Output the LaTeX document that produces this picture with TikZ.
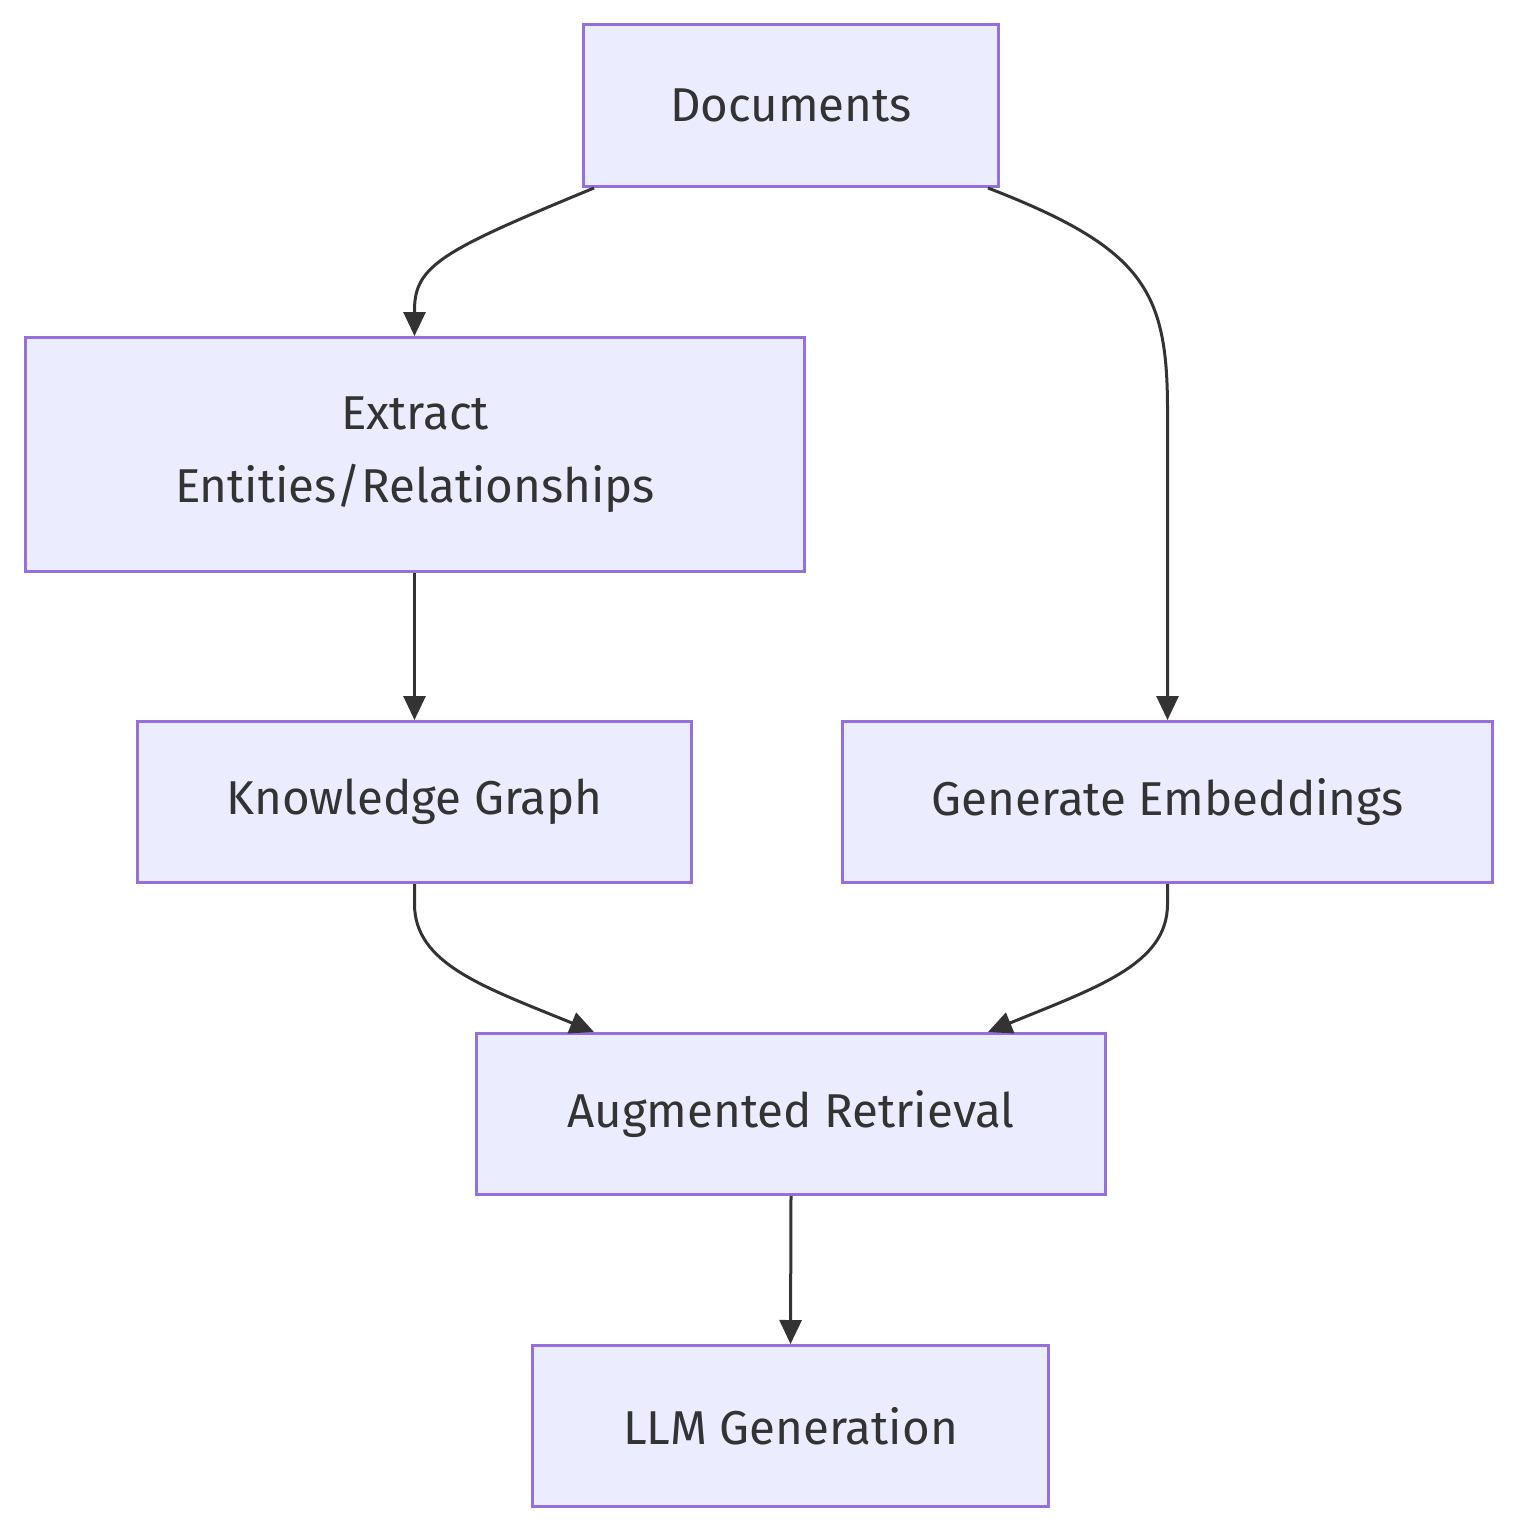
\documentclass[tikz,border=0pt]{standalone}
\usepackage{fontspec}
\setmainfont{Fira Sans}
\usetikzlibrary{arrows.meta}
\definecolor{nodefill}{HTML}{ECECFF}
\definecolor{nodedraw}{HTML}{9370DB}
\definecolor{edgecol}{HTML}{333333}
\tikzset{
  box/.style={draw=nodedraw, fill=nodefill, line width=3pt, inner sep=0pt, anchor=north west,
    font=\fontsize{47.5}{73}\selectfont, text=edgecol, align=center},
  edge/.style={draw=edgecol, line width=3pt, -{Triangle[length=24pt,width=22pt]}}
}
\begin{document}
\begin{tikzpicture}[x=1pt,y=-1pt]
\useasboundingbox (0,0) rectangle (1515,1530);
\node[box, minimum width=415pt, minimum height=162pt] (docs) at (582,23) {Documents};
\node[box, minimum width=779pt, minimum height=234pt] (extract) at (24,336) {Extract\\Entities/Relationships};
\node[box, minimum width=554pt, minimum height=161pt] (kg) at (136,720) {Knowledge Graph};
\node[box, minimum width=650pt, minimum height=161pt] (emb) at (841,720) {Generate Embeddings};
\node[box, minimum width=629pt, minimum height=161pt] (aug) at (475,1032) {Augmented Retrieval};
\node[box, minimum width=516pt, minimum height=161pt] (llm) at (531,1344) {LLM Generation};

\draw[edge] ([xshift=12pt]docs.south west) .. controls +(-150,62) and +(0,-45) .. ([yshift=26pt]extract.north -| kg.north) -- (extract.north -| kg.north);
\draw[edge] ([xshift=-12pt]docs.south east) .. controls +(155,60) and +(0,-120) .. ([yshift=310pt]emb.north) -- (emb.north);
\draw[edge] (extract.south -| kg.north) -- (kg.north);
\draw[edge] (kg.south) -- ++(0,20) .. controls +(0,60) and +(-110,-45) .. ([xshift=119pt]aug.north west);
\draw[edge] (emb.south) -- ++(0,20) .. controls +(0,60) and +(110,-45) .. ([xshift=-119pt]aug.north east);
\draw[edge] (aug.south) -- (llm.north);
\end{tikzpicture}
\end{document}
